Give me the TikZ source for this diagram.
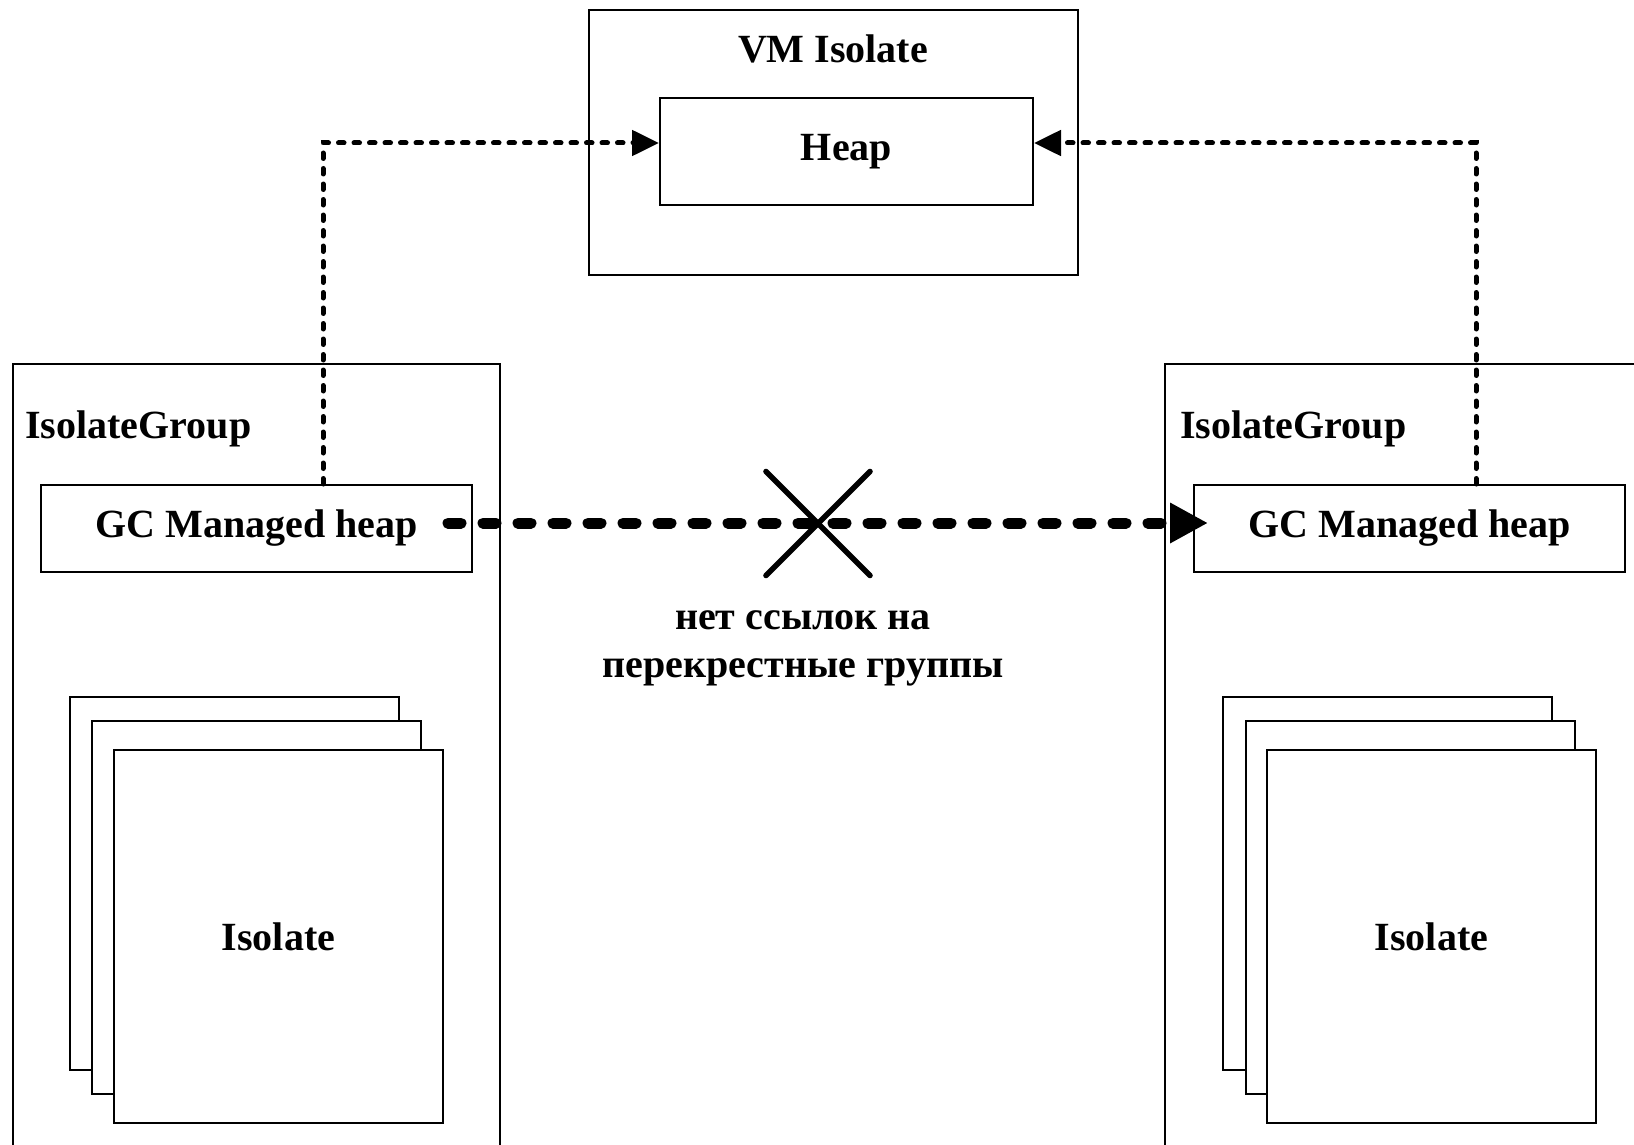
\documentclass[tikz,border=0pt]{standalone}
\usepackage{fontspec}
\setmainfont{Liberation Serif}
\usetikzlibrary{arrows.meta, positioning, calc}

\begin{document}
\begin{tikzpicture}[x=1pt, y=-1pt, font=\fontsize{20}{24}\selectfont\bfseries,
    box/.style={draw, line width=1pt, fill=white, inner sep=0pt},
    refline/.style={line width=2.5pt, line cap=round, dash pattern=on 2.75pt off 5pt, -{Triangle[length=13.5pt, width=12.5pt]}},
    nolink/.style={line width=5.5pt, line cap=round, dash pattern=on 6.5pt off 11pt, -{Triangle[length=19pt, width=19pt]}},
    crossout/.style={line width=2.8pt, line cap=round}]

\useasboundingbox (0,0) rectangle (817,572.5);
\clip (0,0) rectangle (817,572.5);

% --- VM Isolate ---
\node[box, minimum width=244.5pt, minimum height=132.5pt] (vmIso) at (416.75,71.25) {};
\node[anchor=base, inner sep=0pt] (vmLabel) at (416.5,31.5) {VM Isolate};
\node[box, minimum width=186.5pt, minimum height=53.5pt] (heap) at (423.25,75.75) {Heap};

% --- left IsolateGroup ---
\node[box, minimum width=243.5pt, minimum height=418pt] (groupL) at (128.25,391) {};
\node[anchor=base west, inner sep=0pt] (groupLabelL) at (12.5,219) {IsolateGroup};
\node[box, minimum width=215.5pt, minimum height=43.5pt] (gcL) at (128.25,264.25) {GC Managed heap};
\node[box, minimum width=164.5pt, minimum height=186.5pt] (isoL1) at (117.25,441.5) {};
\node[box, minimum width=164.5pt, minimum height=186.5pt] (isoL2) at (128.25,453.5) {};
\node[box, minimum width=164.5pt, minimum height=186.5pt] (isoL3) at (139.25,468.25) {Isolate};

% --- right IsolateGroup ---
\node[box, minimum width=267.5pt, minimum height=418pt] (groupR) at (716.25,391) {};
\node[anchor=base west, inner sep=0pt] (groupLabelR) at (590,219) {IsolateGroup};
\node[box, minimum width=215.5pt, minimum height=43.5pt] (gcR) at (704.75,264.25) {GC Managed heap};
\node[box, minimum width=164.5pt, minimum height=186.5pt] (isoR1) at (693.75,441.5) {};
\node[box, minimum width=164.5pt, minimum height=186.5pt] (isoR2) at (705,453.5) {};
\node[box, minimum width=164.5pt, minimum height=186.5pt] (isoR3) at (715.75,468.25) {Isolate};

% --- references to the VM heap ---
\coordinate (upL) at (161.5,71.5);
\coordinate (upR) at (738,71.5);
\draw[refline] (upL |- gcL.north) -- (upL) -- (upL -| heap.west);
\draw[refline] (upR |- gcR.north) -- (upR) -- (upR -| heap.east);

% --- no links between groups ---
\coordinate (nolinkA) at (224,261.5);
\coordinate (nolinkB) at (604,261.5);
\draw[nolink] (nolinkA) -- (nolinkB);
\coordinate (cross) at (409,261.75);
\draw[crossout] ($(cross)+(-26,-26)$) -- ($(cross)+(26,26)$);
\draw[crossout] ($(cross)+(26,-26)$) -- ($(cross)+(-26,26)$);
\node[align=center, anchor=base, inner sep=0pt] (nolinkText) at (401.5,338.5) {нет ссылок на\\перекрестные группы};

\end{tikzpicture}
\end{document}
